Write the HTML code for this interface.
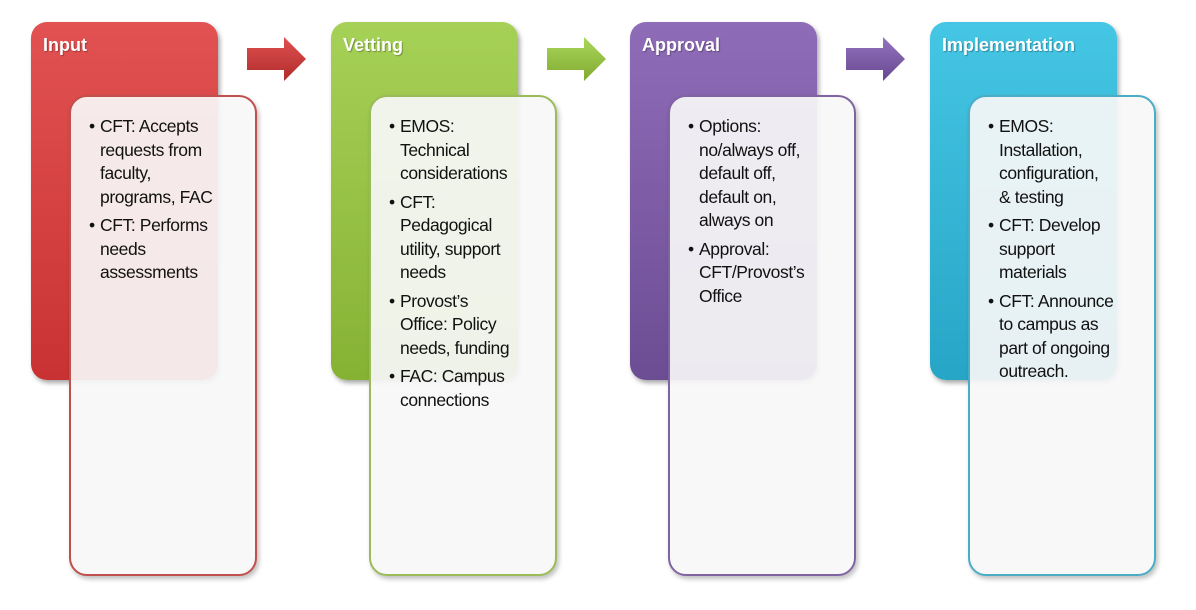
<!DOCTYPE html>
<html><head><meta charset="utf-8"><style>
body{margin:0;width:1196px;height:610px;background:#fff;position:relative;overflow:hidden;font-family:"Liberation Sans",sans-serif}
.h{position:absolute;top:22px;width:187px;height:358px;border-radius:16px;box-shadow:2px 3px 5px rgba(0,0,0,.35)}
.h span{position:absolute;left:12px;top:13px;color:#fff;font-weight:bold;font-size:18px;text-shadow:1px 1px 1px rgba(0,0,0,.3)}
.t{position:absolute;top:95px;width:184px;height:477px;border-radius:18px;background:rgba(247,247,247,.92);border:2px solid;box-shadow:2px 3px 5px rgba(0,0,0,.25)}
.t ul{list-style:none;margin:0;padding:0;position:absolute;left:18px;top:18px;font-size:17.5px;line-height:23.5px;color:#111;white-space:nowrap}
.t li{position:relative;padding-left:11px;margin-bottom:5px;letter-spacing:-0.4px}
.t li:before{content:"•";position:absolute;left:0;top:0}
svg{position:absolute;top:34px}
</style></head><body>
<div class="h" style="left:31px;background:linear-gradient(#e25252,#c93232)"><span>Input</span></div>
<div class="h" style="left:331px;background:linear-gradient(#a6d157,#86b234)"><span>Vetting</span></div>
<div class="h" style="left:630px;background:linear-gradient(#8f6cb8,#6c4d93)"><span>Approval</span></div>
<div class="h" style="left:930px;background:linear-gradient(#45c6e4,#27a5c6)"><span>Implementation</span></div>

<svg style="left:244px" width="66" height="50"><defs><linearGradient id="a" x1="0" y1="0" x2="0" y2="1"><stop offset="0" stop-color="#e05050"/><stop offset="1" stop-color="#b02c2c"/></linearGradient></defs><path d="M3 14H40V3L62 25L40 47V36H3Z" fill="url(#a)"/></svg>
<svg style="left:544px" width="66" height="50"><defs><linearGradient id="b" x1="0" y1="0" x2="0" y2="1"><stop offset="0" stop-color="#aad65c"/><stop offset="1" stop-color="#80ab30"/></linearGradient></defs><path d="M3 14H40V3L62 25L40 47V36H3Z" fill="url(#b)"/></svg>
<svg style="left:843px" width="66" height="50"><defs><linearGradient id="c" x1="0" y1="0" x2="0" y2="1"><stop offset="0" stop-color="#9474be"/><stop offset="1" stop-color="#674790"/></linearGradient></defs><path d="M3 14H40V3L62 25L40 47V36H3Z" fill="url(#c)"/></svg>

<div class="t" style="left:69px;border-color:#c0504d"><ul>
<li>CFT: Accepts<br>requests from<br>faculty,<br>programs, FAC</li>
<li>CFT: Performs<br>needs<br>assessments</li></ul></div>
<div class="t" style="left:369px;border-color:#9bbb59"><ul>
<li>EMOS:<br>Technical<br>considerations</li>
<li>CFT:<br>Pedagogical<br>utility, support<br>needs</li>
<li>Provost’s<br>Office: Policy<br>needs, funding</li>
<li>FAC: Campus<br>connections</li></ul></div>
<div class="t" style="left:668px;border-color:#8064a2"><ul>
<li>Options:<br>no/always off,<br>default off,<br>default on,<br>always on</li>
<li>Approval:<br>CFT/Provost’s<br>Office</li></ul></div>
<div class="t" style="left:968px;border-color:#4bacc6"><ul>
<li>EMOS:<br>Installation,<br>configuration,<br>&amp; testing</li>
<li>CFT: Develop<br>support<br>materials</li>
<li>CFT: Announce<br>to campus as<br>part of ongoing<br>outreach.</li></ul></div>
</body></html>
